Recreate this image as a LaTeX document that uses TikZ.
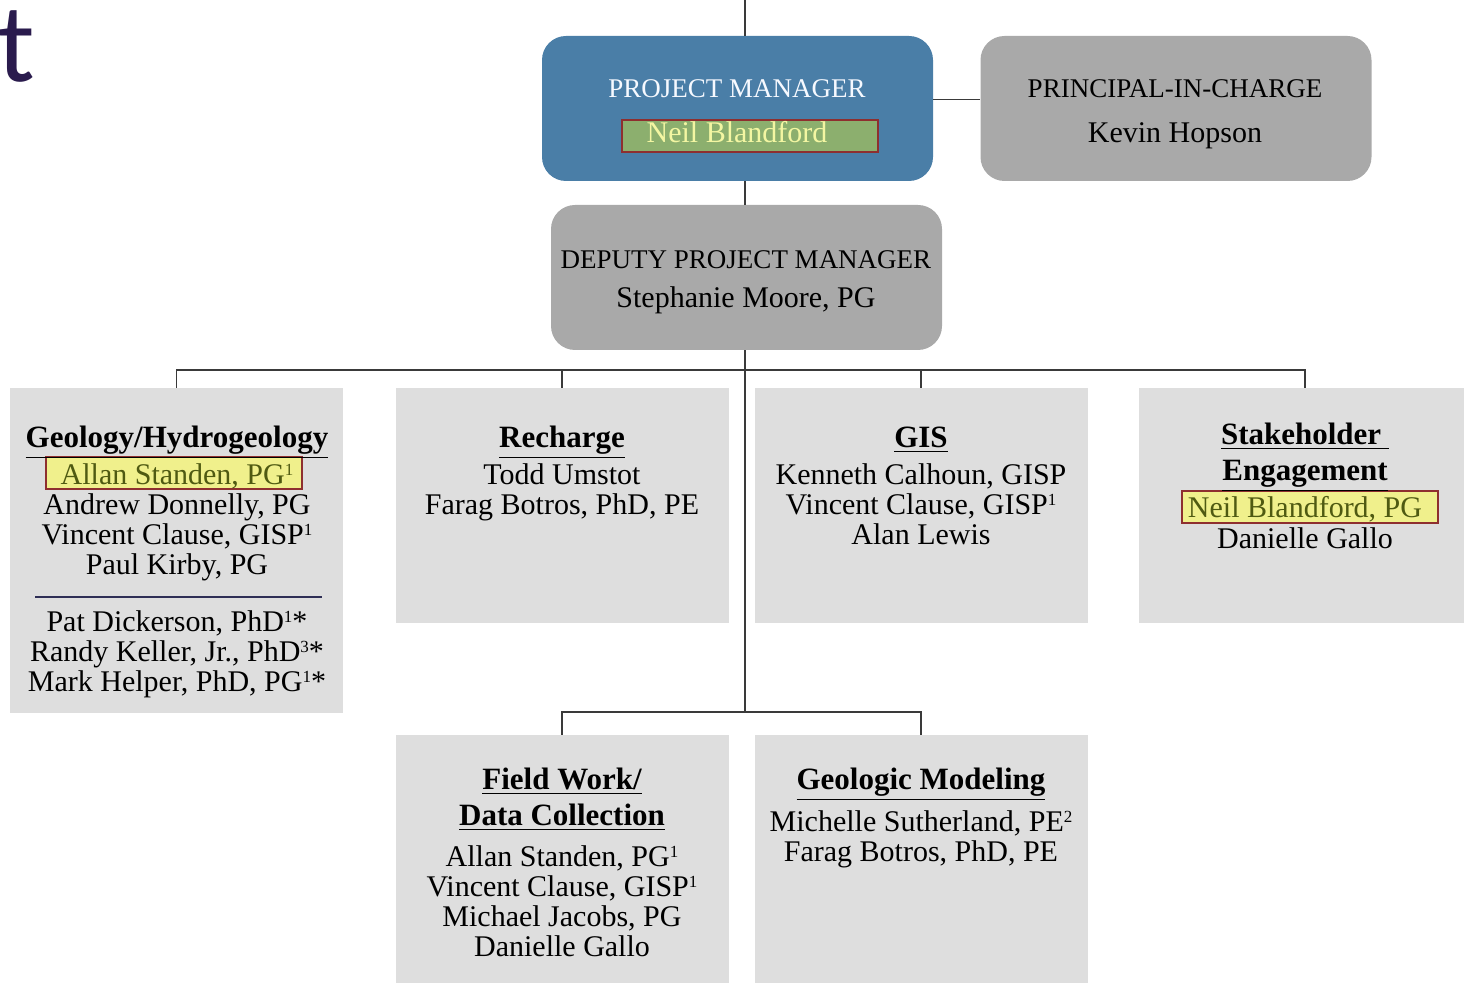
\documentclass[tikz,border=0pt]{standalone}
\usepackage{fontspec}
\setmainfont{Liberation Serif}
\newfontfamily\lettersans{Carlito}
\usepackage{tikz}
\definecolor{pmblue}{HTML}{4A7EA7}
\definecolor{leadgrey}{HTML}{A9A9A9}
\definecolor{panelgrey}{HTML}{DEDEDE}
\definecolor{hlyellow}{HTML}{F0F08C}
\definecolor{hlgreen}{HTML}{8CAF6E}
\definecolor{hlred}{HTML}{8E2F2F}
\definecolor{hltext}{HTML}{4F5A12}
\definecolor{pmtext}{HTML}{F6F9FF}
\definecolor{pmname}{HTML}{F3F6A2}
\definecolor{wirecol}{HTML}{3A3A3A}
\definecolor{rulenavy}{HTML}{2E2E55}
\definecolor{teecol}{HTML}{2A1B4D}
\newcommand\leadfont{\fontsize{13.5}{15}\selectfont}
\newcommand\namefont{\fontsize{15}{15}\selectfont}
\newcommand\headfont{\fontsize{15.5}{18}\selectfont\bfseries}
% small footnote marks that stay within the cap height
\newcommand\fnote[1]{\raisebox{0.3em}{\fontsize{8.5}{8.5}\selectfont #1}}

\begin{document}
\begin{tikzpicture}[x=0.5pt, y=-0.5pt,
  lead/.style={rounded corners=12pt, inner sep=0pt,
    minimum width=195.5pt, minimum height=72.5pt},
  panel/.style={fill=panelgrey, inner sep=0pt, minimum width=166.5pt},
  hilite/.style={draw=hlred, line width=0.6pt, inner sep=0pt,
    minimum width=128pt, minimum height=16pt},
  title/.style={font=\leadfont, anchor=base, inner sep=0pt},
  heading/.style={font=\headfont, align=center, anchor=base, inner sep=0pt},
  names/.style={font=\namefont, align=center, anchor=base, inner sep=0pt},
  wire/.style={draw=wirecol, line width=0.75pt}]
  \useasboundingbox (0,0) rectangle (1464,983);
  \clip (0,0) rectangle (1464,983);

  \node[font=\lettersans\fontsize{56}{56}\selectfont, text=teecol,
    anchor=base west, inner sep=0pt] (tee) at (-3,82) {t};

  % leadership boxes
  \node[lead, fill=pmblue] (pm) at (737.5,108.5) {};
  \node[lead, fill=leadgrey] (pic) at (1176,108.5) {};
  \node[lead, fill=leadgrey] (dpm) at (746.5,277.5) {};

  % team panels
  \node[panel, minimum height=162.5pt] (geo) at (176.5,550.5) {};
  \node[panel, minimum height=117.5pt] (rech) at (562,505.5) {};
  \node[panel, minimum height=117.5pt] (gis) at (921,505.5) {};
  \node[panel, minimum height=117.5pt] (stake) at (1305,505.5) {};
  \node[panel, minimum height=132.5pt] (field) at (562,867.5) {};
  \node[panel, minimum height=132.5pt] (model) at (921,867.5) {};

  % wiring
  \coordinate (feed) at (745,0);
  \coordinate (bus) at (745,370);
  \coordinate (lowbus) at (745,712);
  \draw[wire] (feed) -- (pm.north -| feed);
  \draw[wire] ([yshift=4.5pt]pm.east) -- ([yshift=4.5pt]pic.west);
  \draw[wire] (pm.south -| bus) -- (dpm.north -| bus);
  \draw[wire] (dpm.south -| bus) -- (lowbus);
  \draw[wire] (geo.north) |- (bus) -| (stake.north);
  \draw[wire] (rech.north) -- (rech.north |- bus);
  \draw[wire] (gis.north) -- (gis.north |- bus);
  \draw[wire] (field.north) |- (lowbus) -| (model.north);

  % highlighted names
  \node[hilite, fill=hlgreen] (pmhl) at (750,136) {};
  \node[hilite, fill=hlyellow] (geohl) at (174,473) {};
  \node[hilite, fill=hlyellow] (stakehl) at (1310,507) {};

  % leadership texts
  \node[title, text=pmtext] (pmrole) at (737,98) {PROJECT MANAGER};
  \node[names, text=pmname] (pmname) at (737,143) {Neil Blandford};
  \node[title] (picrole) at (1175,98) {PRINCIPAL-IN-CHARGE};
  \node[names] (picname) at (1175,143) {Kevin Hopson};
  \node[title] (dpmrole) at (746,269) {DEPUTY PROJECT MANAGER};
  \node[names] (dpmname) at (746,308) {Stephanie Moore, PG};

  % geology / hydrogeology (multi-line blocks sit on their last baseline)
  \node[heading] (geohead) at (177,448) {\underline{Geology/Hydrogeology}};
  \node[names, text=hltext] (geolead) at (177,485) {Allan Standen, PG\fnote{1}};
  \node[names] (geostaff) at (177,575) {Andrew Donnelly, PG\\
    Vincent Clause, GISP\fnote{1}\\Paul Kirby, PG};
  \draw[rulenavy, line width=1pt] (35,597) -- (322,597);
  \node[names] (geoadv) at (177,692) {Pat Dickerson, PhD\fnote{1}*\\
    Randy Keller, Jr., PhD\fnote{3}*\\Mark Helper, PhD, PG\fnote{1}*};

  % recharge
  \node[heading] (rechhead) at (562,448) {\underline{Recharge}};
  \node[names] (rechstaff) at (562,515) {Todd Umstot\\Farag Botros, PhD, PE};

  % gis
  \node[heading] (gishead) at (921,448) {\underline{GIS}};
  \node[names] (gisstaff) at (921,545) {Kenneth Calhoun, GISP\\
    Vincent Clause, GISP\fnote{1}\\Alan Lewis};

  % stakeholder engagement
  \node[heading] (stakehead) at (1305,481) {\underline{Stakeholder }\\\underline{Engagement}};
  \node[names, text=hltext] (stakelead) at (1305,518) {Neil Blandford, PG};
  \node[names] (stakestaff) at (1305,549) {Danielle Gallo};

  % field work
  \node[heading] (fieldhead) at (562,826) {\underline{Field Work/}\\\underline{Data Collection}};
  \node[names] (fieldstaff) at (562,957) {Allan Standen, PG\fnote{1}\\
    Vincent Clause, GISP\fnote{1}\\Michael Jacobs, PG\\Danielle Gallo};

  % geologic modeling
  \node[heading] (modelhead) at (921,790) {\underline{Geologic Modeling}};
  \node[names] (modelstaff) at (921,862) {Michelle Sutherland, PE\fnote{2}\\
    Farag Botros, PhD, PE};
\end{tikzpicture}
\end{document}
